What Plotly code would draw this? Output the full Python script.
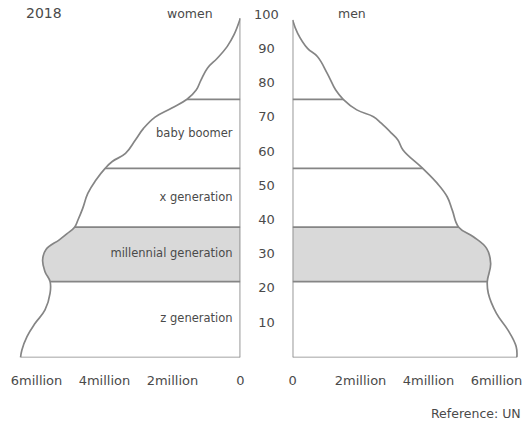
import numpy as np
import plotly.graph_objects as go

# ---------------- data (millions of people by age) ----------------
women_age = [99.2, 94.3, 90.9, 87.5, 84.6, 81.1, 78.2, 75.5, 72.9, 70.3, 67.0, 63.6,
             59.7, 57.3, 55.3, 51.9, 48.0, 43.6, 40.2, 38.1, 36.2, 34.4, 31.6, 28.5,
             25.1, 22.2, 18.8, 13.9, 10.0, 6.1, 2.2, 0.0]
women_val = [0.0, 0.19, 0.39, 0.68, 0.97, 1.16, 1.30, 1.57, 2.03, 2.51, 2.85, 3.09,
             3.38, 3.77, 3.98, 4.25, 4.49, 4.64, 4.78, 4.88, 5.10, 5.33, 5.72, 5.82,
             5.75, 5.60, 5.60, 5.75, 6.04, 6.28, 6.43, 6.47]

men_age = [98.7, 94.8, 90.4, 88.0, 83.1, 78.2, 75.5, 72.4, 70.4, 68.5, 65.6, 63.6,
           60.7, 55.3, 50.9, 47.0, 43.1, 38.1, 35.3, 31.9, 27.5, 22.2, 18.8, 12.9,
           8.0, 3.2, 0.0]
men_val = [0.0, 0.15, 0.44, 0.73, 1.02, 1.27, 1.49, 1.89, 2.38, 2.61, 2.91, 3.10,
           3.25, 3.83, 4.26, 4.55, 4.70, 4.89, 5.32, 5.71, 5.83, 5.73, 5.76, 6.00,
           6.34, 6.58, 6.60]

# generation boundaries (age), top to bottom
boundaries = [75.5, 55.3, 38.1, 22.2, 0.0]
band_names = ["baby boomer", "x generation", "millennial generation", "z generation"]
highlight_band = "millennial generation"

age_ticks = [10, 20, 30, 40, 50, 60, 70, 80, 90, 100]
x_tickvals = [0, 2, 4, 6]
x_ticktext = ["0", "2million", "4million", "6million"]

year_label = "2018"
source_label = "Reference: UN"

# ---------------- style ----------------
W, H = 529, 422
LINE = "#858585"
FILL = "#d9d9d9"
TXT = "#4a4a4a"
FONT = "DejaVu Sans"
PXM = 34.5          # pixels per million
AX_L, AX_R = 240, 293
Y0 = 357.5          # pixel of age 0
PXY = 3.42          # pixels per year
SMOOTH = 1.2

fig = go.Figure()


def add_panel(ages, vals, xa, ya):
    ages = np.array(ages)
    vals = np.array(vals)
    i = band_names.index(highlight_band)
    hi, lo = boundaries[i], boundaries[i + 1]
    m = (ages <= hi + 1e-9) & (ages >= lo - 1e-9)
    fig.add_trace(go.Scatter(x=vals[m], y=ages[m], mode="lines", fill="tozerox",
                             fillcolor=FILL,
                             line=dict(color=LINE, width=0, shape="spline", smoothing=SMOOTH),
                             xaxis=xa, yaxis=ya, hoverinfo="skip", cliponaxis=False))
    # curve outline
    fig.add_trace(go.Scatter(x=vals, y=ages, mode="lines",
                             line=dict(color=LINE, width=1.7, shape="spline", smoothing=SMOOTH),
                             xaxis=xa, yaxis=ya, hoverinfo="skip", cliponaxis=False))
    # axis line
    fig.add_trace(go.Scatter(x=[0, 0], y=[0, ages.max()], mode="lines",
                             line=dict(color=LINE, width=1.7), xaxis=xa, yaxis=ya,
                             hoverinfo="skip", cliponaxis=False))
    # boundary lines (incl. baseline)
    for b in boundaries:
        v = float(np.interp(b, ages[::-1], vals[::-1]))
        fig.add_trace(go.Scatter(x=[0, v], y=[b, b], mode="lines",
                                 line=dict(color=LINE, width=1.7), xaxis=xa, yaxis=ya,
                                 hoverinfo="skip", cliponaxis=False))


add_panel(women_age, women_val, "x", "y")
add_panel(men_age, men_val, "x2", "y")

# band labels in women panel
mids = [(boundaries[i] + boundaries[i + 1]) / 2 for i in range(len(band_names))]
fig.add_trace(go.Scatter(x=[0.23] * len(band_names), y=mids, mode="text", text=band_names,
                         textposition="middle left",
                         textfont=dict(family=FONT, size=11.5, color=TXT),
                         xaxis="x", yaxis="y", hoverinfo="skip", cliponaxis=False))

# central age ticks
fig.add_trace(go.Scatter(x=[0] * len(age_ticks), y=age_ticks, mode="text",
                         text=[str(t) for t in age_ticks], textposition="middle center",
                         textfont=dict(family=FONT, size=13, color=TXT),
                         xaxis="x3", yaxis="y", hoverinfo="skip", cliponaxis=False))

ydom0 = (H - Y0) / H
ytop = Y0 / PXY
xcommon = dict(showgrid=False, zeroline=False, showline=False, ticks="outside",
               ticklen=11, tickcolor="rgba(0,0,0,0)", tickvals=x_tickvals, ticktext=x_ticktext,
               tickfont=dict(family=FONT, size=13, color=TXT), fixedrange=True)

fig.update_layout(
    width=W, height=H, margin=dict(l=0, r=0, t=0, b=0),
    paper_bgcolor="white", plot_bgcolor="white", showlegend=False,
    xaxis=dict(domain=[0, AX_L / W], range=[AX_L / PXM, 0], anchor="y", **xcommon),
    xaxis2=dict(domain=[AX_R / W, 1], range=[0, (W - AX_R) / PXM], anchor="y", **xcommon),
    xaxis3=dict(domain=[AX_L / W, AX_R / W], range=[-1, 1], visible=False, anchor="y"),
    yaxis=dict(domain=[ydom0, 1], range=[0, ytop], visible=False, fixedrange=True),
    annotations=[
        dict(text=year_label, x=20 / W, y=1 - 13.5 / H, xref="paper", yref="paper",
             xanchor="left", yanchor="middle", showarrow=False,
             font=dict(family=FONT, size=14, color=TXT)),
        dict(text="women", x=189 / W, y=1 - 13.5 / H, xref="paper", yref="paper",
             xanchor="center", yanchor="middle", showarrow=False,
             font=dict(family=FONT, size=12.5, color=TXT)),
        dict(text="men", x=353 / W, y=1 - 13.5 / H, xref="paper", yref="paper",
             xanchor="center", yanchor="middle", showarrow=False,
             font=dict(family=FONT, size=12.5, color=TXT)),
        dict(text=source_label, x=1 - 2 / W, y=1 - 413 / H, xref="paper", yref="paper",
             xanchor="right", yanchor="middle", showarrow=False,
             font=dict(family=FONT, size=12.5, color=TXT)),
    ],
)

fig.write_html("out.html")
